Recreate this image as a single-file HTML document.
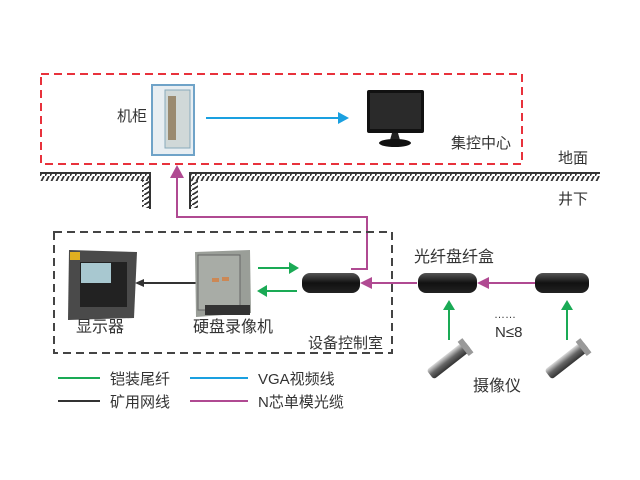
<!DOCTYPE html>
<html><head><meta charset="utf-8"><style>
body{margin:0;background:#fff;width:640px;height:480px;overflow:hidden}
svg{display:block}
text{font-family:"Liberation Sans","Noto Sans CJK SC",sans-serif;font-size:15px;fill:#333}
</style></head><body>
<svg width="640" height="480" viewBox="0 0 640 480">
<defs>
<pattern id="h" width="5" height="8" patternUnits="userSpaceOnUse"><path d="M4,0 L0,8" stroke="#333" stroke-width="1.8"/></pattern>
<pattern id="hv" width="8" height="5" patternUnits="userSpaceOnUse"><path d="M0,5 L8,0" stroke="#333" stroke-width="1.8"/></pattern>
<linearGradient id="box" x1="0" y1="0" x2="0" y2="1"><stop offset="0" stop-color="#555"/><stop offset=".5" stop-color="#111"/><stop offset="1" stop-color="#222"/></linearGradient>
<linearGradient id="cam" x1="0" y1="0" x2="0" y2="1"><stop offset="0" stop-color="#ddd"/><stop offset=".5" stop-color="#666"/><stop offset="1" stop-color="#333"/></linearGradient>
</defs>
<rect x="41" y="74" width="481" height="90" fill="none" stroke="#e8323c" stroke-width="2" stroke-dasharray="8,5"/>
<line x1="40" y1="173" x2="151" y2="173" stroke="#333" stroke-width="2"/>
<rect x="40" y="174" width="110" height="7" fill="url(#h)"/>
<line x1="150" y1="173" x2="150" y2="209" stroke="#333" stroke-width="2"/>
<rect x="142" y="180" width="7" height="28" fill="url(#hv)"/>
<line x1="189" y1="173" x2="600" y2="173" stroke="#333" stroke-width="2"/>
<rect x="190" y="174" width="410" height="7" fill="url(#h)"/>
<line x1="190" y1="173" x2="190" y2="209" stroke="#333" stroke-width="2"/>
<rect x="191" y="180" width="7" height="28" fill="url(#hv)"/>
<rect x="152" y="85" width="42" height="70" fill="#e8eef2" stroke="#6fa3c8" stroke-width="2"/>
<rect x="165" y="90" width="25" height="58" fill="#d0d8d8" stroke="#8ab" stroke-width="1"/>
<rect x="168" y="96" width="8" height="44" fill="#9a8a70"/>
<text x="117" y="121">机柜</text>
<line x1="206" y1="118" x2="340" y2="118" stroke="#1aa0e0" stroke-width="2"/>
<polygon points="349,118 338,112 338,124" fill="#1aa0e0"/>
<rect x="367" y="90" width="57" height="43" rx="2" fill="#111"/>
<rect x="370" y="93" width="51" height="36" fill="#2a2a2a"/>
<path d="M392,133 L398,133 L400,140 L390,140Z" fill="#222"/>
<ellipse cx="395" cy="143" rx="16" ry="4" fill="#111"/>
<text x="451" y="148">集控中心</text>
<text x="558" y="163">地面</text>
<text x="558" y="204">井下</text>
<polyline points="367,269 367,217 177,217 177,175" fill="none" stroke="#b04a92" stroke-width="2"/>
<polygon points="177,165 170,178 184,178" fill="#b04a92"/>
<line x1="351" y1="269" x2="368" y2="269" stroke="#b04a92" stroke-width="2"/>
<rect x="54" y="232" width="338" height="121" fill="none" stroke="#444" stroke-width="2" stroke-dasharray="8,5"/>
<path d="M69,250 L137,252 L134,318 L68,320Z" fill="#4a4a4a"/>
<rect x="80" y="262" width="47" height="45" fill="#222"/>
<rect x="81" y="263" width="30" height="20" fill="#a8c8d0"/>
<rect x="70" y="252" width="10" height="8" fill="#e0b020"/>
<line x1="137" y1="283" x2="198" y2="283" stroke="#333" stroke-width="2"/>
<polygon points="135,283 144,279 144,287" fill="#333"/>
<path d="M195,252 L250,250 L251,313 L196,317Z" fill="#9a9e98"/>
<rect x="198" y="255" width="42" height="55" fill="#a8aca6" stroke="#666"/>
<rect x="212" y="278" width="7" height="4" fill="#c85"/><rect x="222" y="277" width="7" height="4" fill="#c85"/>
<rect x="205" y="305" width="45" height="10" fill="#333"/>
<line x1="258" y1="268" x2="292" y2="268" stroke="#1aaa55" stroke-width="2"/>
<polygon points="299,268 289,262 289,274" fill="#1aaa55"/>
<line x1="264" y1="291" x2="297" y2="291" stroke="#1aaa55" stroke-width="2"/>
<polygon points="257,291 267,285 267,297" fill="#1aaa55"/>
<rect x="302" y="273" width="58" height="20" rx="8" fill="url(#box)"/>
<rect x="418" y="273" width="59" height="20" rx="8" fill="url(#box)"/>
<rect x="535" y="273" width="54" height="20" rx="8" fill="url(#box)"/>
<line x1="370" y1="283" x2="417" y2="283" stroke="#b04a92" stroke-width="2"/>
<polygon points="360,283 372,277 372,289" fill="#b04a92"/>
<line x1="487" y1="283" x2="535" y2="283" stroke="#b04a92" stroke-width="2"/>
<polygon points="477,283 489,277 489,289" fill="#b04a92"/>
<line x1="449" y1="340" x2="449" y2="308" stroke="#1aaa55" stroke-width="2"/>
<polygon points="449,300 443,310 455,310" fill="#1aaa55"/>
<line x1="567" y1="340" x2="567" y2="308" stroke="#1aaa55" stroke-width="2"/>
<polygon points="567,300 561,310 573,310" fill="#1aaa55"/>
<g transform="translate(449,360) rotate(-38)"><rect x="-24" y="-6" width="48" height="12" rx="3" fill="url(#cam)"/><rect x="18" y="-9" width="6" height="18" fill="#999"/></g>
<g transform="translate(567,360) rotate(-38)"><rect x="-24" y="-6" width="48" height="12" rx="3" fill="url(#cam)"/><rect x="18" y="-9" width="6" height="18" fill="#999"/></g>
<text x="76" y="332" style="font-size:16px">显示器</text>
<text x="193" y="332" style="font-size:16px">硬盘录像机</text>
<text x="308" y="348">设备控制室</text>
<text x="414" y="262" style="font-size:16px">光纤盘纤盒</text>
<text x="494" y="318" style="font-size:11px">……</text>
<text x="495" y="337">N≤8</text>
<text x="473" y="391" style="font-size:16px">摄像仪</text>
<line x1="58" y1="378" x2="100" y2="378" stroke="#1aaa55" stroke-width="2"/>
<text x="110" y="384">铠装尾纤</text>
<line x1="58" y1="401" x2="100" y2="401" stroke="#333" stroke-width="2"/>
<text x="110" y="407">矿用网线</text>
<line x1="190" y1="378" x2="248" y2="378" stroke="#1aa0e0" stroke-width="2"/>
<text x="258" y="384">VGA视频线</text>
<line x1="190" y1="401" x2="248" y2="401" stroke="#b04a92" stroke-width="2"/>
<text x="258" y="407">N芯单模光缆</text>
</svg>
</body></html>
